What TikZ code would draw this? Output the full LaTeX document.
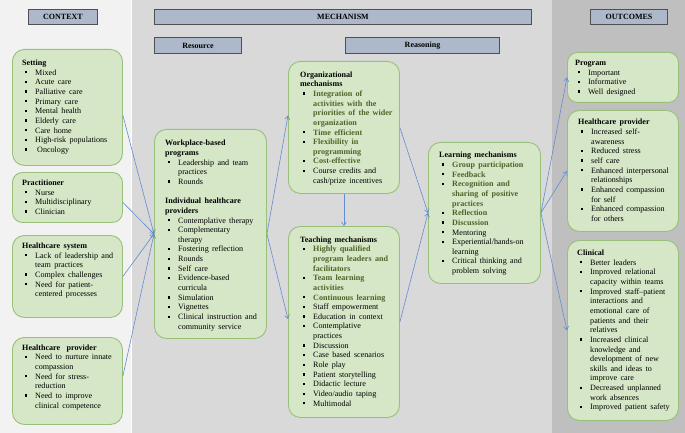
\documentclass[tikz,border=0pt]{standalone}
\usepackage{fontspec}
\setmainfont{Liberation Serif}
\usetikzlibrary{arrows.meta,calc}
\definecolor{bgL}{RGB}{242,242,242}
\definecolor{bgM}{RGB}{217,217,217}
\definecolor{bgR}{RGB}{191,191,191}
\definecolor{gfill}{RGB}{214,231,199}
\definecolor{gdraw}{RGB}{152,192,122}
\definecolor{hfill}{RGB}{173,185,202}
\definecolor{hdraw}{RGB}{80,80,80}
\definecolor{arrc}{RGB}{100,140,212}
\definecolor{gtext}{RGB}{79,98,40}
\newcommand\nl{\newline\hspace*{13pt}}
\newcommand\bul{\makebox[13pt][l]{\hspace{2.5pt}\rule[1.7pt]{2.3pt}{2.3pt}}}
\newcommand\itm[1]{\par\noindent\bul#1}
\newcommand\gitm[1]{\par\noindent\bul{\color{gtext}\bfseries#1}}
\newcommand\hd[1]{\noindent\textbf{#1}}
\begin{document}
\begin{tikzpicture}[x=1pt,y=-1pt,
  gbox/.style={draw=gdraw, fill=gfill, line width=0.9pt, rounded corners=12pt, anchor=north west, inner sep=0pt},
  hbox/.style={draw=hdraw, fill=hfill, line width=1pt, anchor=north west, inner sep=0pt, font=\fontsize{8}{9}\selectfont\bfseries},
  txt/.style={anchor=north west, inner sep=0pt, text width=#1, execute at begin node={\fontsize{8.1}{9.65}\selectfont\parindent=0pt\parskip=0pt\rightskip=0pt plus 1fil}},
  arr/.style={draw=arrc, line width=0.6pt, -{Straight Barb[length=3.5pt,width=5pt]}},
]
\useasboundingbox (0,0) rectangle (685,433);
\fill[bgL] (0,0) rectangle (131,433);
\fill[bgM] (131,0) rectangle (552,433);
\fill[bgR] (552,0) rectangle (685,433);
\draw[white, line width=0.8pt] (131,0) -- (131,433);

% headers
\node[hbox, minimum width=69pt, minimum height=15pt] (ctx) at (28,9) {CONTEXT};
\node[hbox, minimum width=377pt, minimum height=15pt] (mech) at (154,9) {MECHANISM};
\node[hbox, minimum width=77pt, minimum height=15pt] (outc) at (590,9) {OUTCOMES};
\node[hbox, minimum width=87pt, minimum height=16pt] (resh) at (154,37) {Resource};
\node[hbox, minimum width=154pt, minimum height=16pt] (reah) at (345,37) {Reasoning};

% context boxes
\node[gbox, minimum width=110pt, minimum height=116pt] (setting) at (12,49) {};
\node[txt=98pt] (settingt) at (22,59.7) {\hd{Setting}
\itm{Mixed}
\itm{Acute care}
\itm{Palliative care}
\itm{Primary care}
\itm{Mental health}
\itm{Elderly care}
\itm{Care home}
\itm{High-risk populations}
\itm{\hspace{2pt}Oncology}};

\node[gbox, rounded corners=10pt, minimum width=110pt, minimum height=50pt] (pract) at (12,172) {};
\node[txt=98pt] (practt) at (22,179.7) {\hd{Practitioner}
\itm{Nurse}
\itm{Multidisciplinary}
\itm{Clinician}};

\node[gbox, minimum width=110pt, minimum height=82pt] (hcsys) at (12,235) {};
\node[txt=98pt] (hcsyst) at (22,242.7) {\hd{Healthcare system}
\itm{Lack of leadership and\nl team practices}
\itm{Complex challenges}
\itm{Need for patient-\nl centered processes}};

\node[gbox, minimum width=110pt, minimum height=87pt] (hcprov) at (12,337) {};
\node[txt=98pt] (hcprovt) at (22,344.3) {\hd{Healthcare\hspace{3pt} provider}
\itm{Need to nurture innate\nl compassion}
\itm{Need for stress-\nl reduction}
\itm{Need to improve\nl clinical competence}};

% resource
\node[gbox, minimum width=112pt, minimum height=209pt] (res) at (154,129) {};
\node[txt=100pt] (rest) at (165,140) {\hd{Workplace-based\newline programs}
\itm{Leadership and team\nl practices}
\itm{Rounds}
\par\vspace{9.65pt}
\hd{Individual healthcare\newline providers}
\itm{Contemplative therapy}
\itm{Complementary\nl therapy}
\itm{Fostering reflection}
\itm{Rounds}
\itm{Self care}
\itm{Evidence-based\nl curricula}
\itm{Simulation}
\itm{Vignettes}
\itm{Clinical instruction and\nl community service}};

% organizational
\node[gbox, minimum width=111pt, minimum height=132pt] (org) at (288,61) {};
\node[txt=98pt] (orgt) at (300,71.3) {\hd{Organizational\newline mechanisms}
\gitm{Integration of\nl activities with the\nl priorities of the wider\nl organization}
\gitm{Time efficient}
\gitm{Flexibility in\nl programming}
\gitm{Cost-effective}
\itm{Course credits and\nl cash/prize incentives}};

% teaching
\node[gbox, minimum width=111pt, minimum height=191pt] (teach) at (288,226) {};
\node[txt=98pt] (teacht) at (300,236.3) {\hd{Teaching mechanisms}
\gitm{Highly qualified\nl program leaders and\nl facilitators}
\gitm{Team learning\nl activities}
\gitm{Continuous learning}
\itm{Staff empowerment}
\itm{Education in context}
\itm{Contemplative\nl practices}
\itm{Discussion}
\itm{Case based scenarios}
\itm{Role play}
\itm{Patient storytelling}
\itm{Didactic lecture}
\itm{Video/audio taping}
\itm{Multimodal}};

% learning
\node[gbox, minimum width=112pt, minimum height=141pt] (learn) at (428,142) {};
\node[txt=100pt] (learnt) at (439,152) {\hd{Learning mechanisms}
\gitm{Group participation}
\gitm{Feedback}
\gitm{Recognition and\nl sharing of positive\nl practices}
\gitm{Reflection}
\gitm{Discussion}
\itm{Mentoring}
\itm{Experiential/hands-on\nl learning}
\itm{Critical thinking and\nl problem solving}};

% outcomes
\node[gbox, rounded corners=10pt, minimum width=111pt, minimum height=50pt] (prog) at (567,52) {};
\node[txt=100pt] (progt) at (575,60) {\hd{Program}
\itm{Important}
\itm{Informative}
\itm{Well designed}};

\node[gbox, minimum width=111pt, minimum height=121pt] (hcout) at (567,110) {};
\node[txt=98pt] (hcoutt) at (578,119) {\hd{Healthcare provider}
\itm{Increased self-\nl awareness}
\itm{Reduced stress}
\itm{self care}
\itm{Enhanced interpersonal\nl relationships}
\itm{Enhanced compassion\nl for self}
\itm{Enhanced compassion\nl for others}};

\node[gbox, minimum width=111pt, minimum height=180pt] (clin) at (567,240) {};
\node[txt=98pt] (clint) at (577,249.7) {\hd{Clinical}
\itm{Better leaders}
\itm{Improved relational\nl capacity within teams}
\itm{Improved staff–patient\nl interactions and\nl emotional care of\nl patients and their\nl relatives}
\itm{Increased clinical\nl knowledge and\nl development of new\nl skills and ideas to\nl improve care}
\itm{Decreased unplanned\nl work absences}
\itm{Improved patient safety}};

% connectors
\draw[arr] ($(setting.east)+(0,8)$) -- (res.west);
\draw[arr] ($(pract.east)+(0,5)$) -- (res.west);
\draw[arr] (hcsys.east) -- (res.west);
\draw[arr] ($(hcprov.east)+(0,-5)$) -- (res.west);
\draw[arr] (res.east) -- ($(org.west)+(0,-12)$);
\draw[arr] (res.east) -- ($(teach.west)+(0,-3)$);
\draw[arr] (org.south) -- (teach.north);
\draw[arr] (org.east) -- (learn.west);
\draw[arr] (teach.east) -- (learn.west);
\draw[arr] (learn.east) -- (prog.west);
\draw[arr] (learn.east) -- (hcout.west);
\draw[arr] (learn.east) -- (clin.west);
\end{tikzpicture}
\end{document}
